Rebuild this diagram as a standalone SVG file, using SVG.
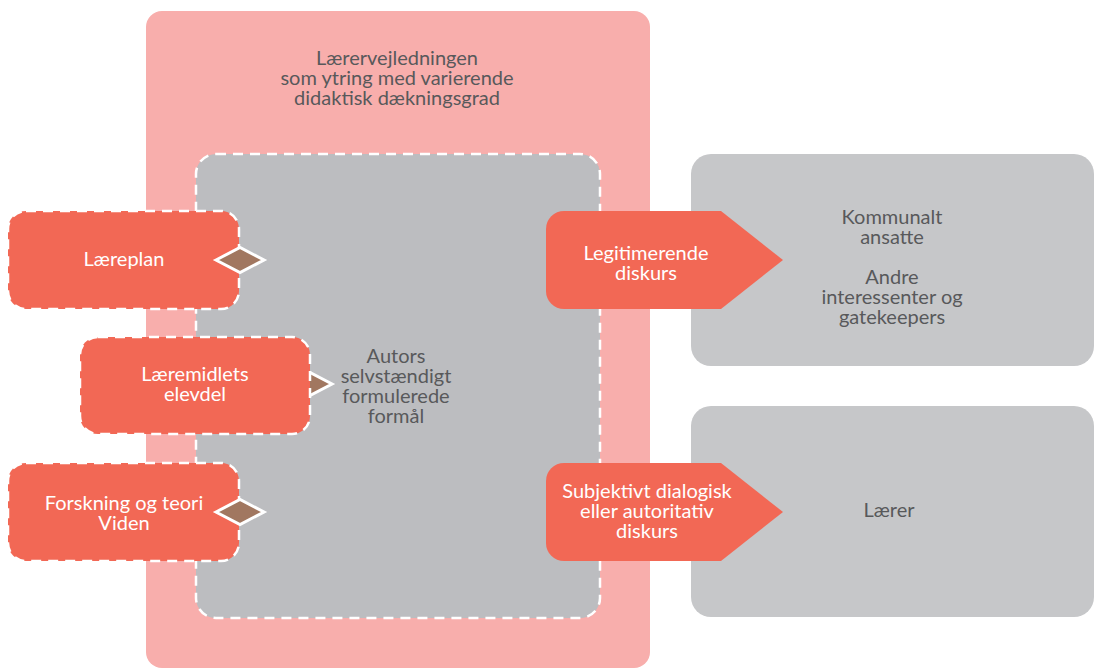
<svg xmlns="http://www.w3.org/2000/svg" width="1095" height="669" viewBox="0 0 1095 669">
<style>
text{font-family:Lato,"Liberation Sans",sans-serif;font-size:20px;text-anchor:middle}
.dark{fill:#58595b}
.light{fill:#ffffff}
.orange{fill:#f26855}
.dashed{stroke:#ffffff;stroke-width:2.5;stroke-dasharray:10 7}
.diamond{fill:#a17760;stroke:#ffffff;stroke-width:3}
.gray{fill:#c6c7c9}
</style>
<rect width="1095" height="669" fill="#ffffff"/>
<g id="outer">
<rect x="146" y="11" width="504" height="657" rx="16" fill="#f8aeac"/>
<text class="dark" x="397" y="65">Lærervejledningen</text>
<text class="dark" x="397" y="85">som ytring med varierende</text>
<text class="dark" x="397" y="105">didaktisk dækningsgrad</text>
</g>
<g id="inner">
<rect x="196" y="154" width="404" height="464" rx="20" fill="#bcbdc0" class="dashed"/>
<text class="dark" x="396" y="363">Autors</text>
<text class="dark" x="396" y="383">selvstændigt</text>
<text class="dark" x="396" y="403">formulerede</text>
<text class="dark" x="396" y="423">formål</text>
</g>
<g id="kommunalt">
<rect x="691" y="154" width="403" height="212" rx="20" class="gray"/>
<text class="dark" x="892" y="224">Kommunalt</text>
<text class="dark" x="892" y="244">ansatte</text>
<text class="dark" x="892" y="284">Andre</text>
<text class="dark" x="892" y="304">interessenter og</text>
<text class="dark" x="892" y="324">gatekeepers</text>
</g>
<g id="laerer">
<rect x="691" y="406" width="403" height="211" rx="20" class="gray"/>
<text class="dark" x="889" y="517">Lærer</text>
</g>
<g id="connectors">
<polygon class="diamond" points="284,384 308,371.5 332,384 308,396.5"/>
</g>
<g id="laereplan">
<rect x="8" y="211" width="231" height="98" rx="18" class="orange dashed"/>
<text class="light" x="124" y="266">Læreplan</text>
</g>
<polygon class="diamond" points="216,260 240,247.5 264,260 240,272.5"/>
<g id="laeremidlets">
<rect x="80" y="337" width="230" height="97" rx="18" class="orange dashed"/>
<text class="light" x="195" y="381">Læremidlets</text>
<text class="light" x="195" y="401">elevdel</text>
</g>
<g id="forskning">
<rect x="8" y="463" width="231" height="98" rx="18" class="orange dashed"/>
<text class="light" x="124" y="510">Forskning og teori</text>
<text class="light" x="124" y="530">Viden</text>
</g>
<polygon class="diamond" points="216,512 240,499.5 264,512 240,524.5"/>
<g id="legitimerende">
<path class="orange" d="M564,211 H721 L783,260 L721,309 H564 A18,18 0 0 1 546,291 V229 A18,18 0 0 1 564,211 Z"/>
<text class="light" x="646" y="260">Legitimerende</text>
<text class="light" x="646" y="280">diskurs</text>
</g>
<g id="subjektivt">
<path class="orange" d="M564,463 H721 L783,512 L721,561 H564 A18,18 0 0 1 546,543 V481 A18,18 0 0 1 564,463 Z"/>
<text class="light" x="647" y="498">Subjektivt dialogisk</text>
<text class="light" x="647" y="518">eller autoritativ</text>
<text class="light" x="647" y="538">diskurs</text>
</g>
</svg>
